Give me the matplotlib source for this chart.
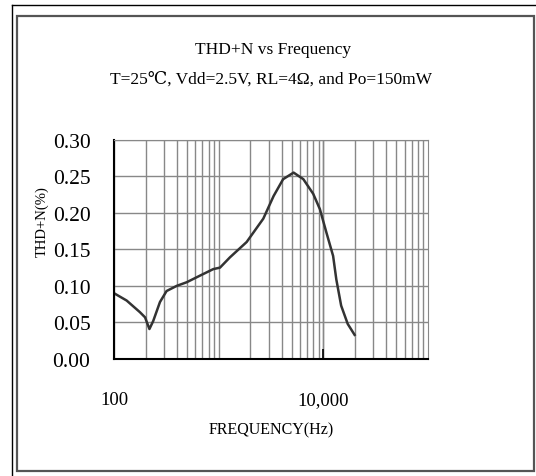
import matplotlib
matplotlib.use("Agg")
import matplotlib.pyplot as plt
from matplotlib.lines import Line2D
from matplotlib.patches import Rectangle
from matplotlib.ticker import FixedLocator, NullFormatter

# dane
freq_hz = [100, 132, 177, 198, 218, 237, 275, 318, 397, 495, 662, 889, 1030, 1280,
           1850, 2670, 3350, 4130, 5200, 6440, 8000, 9270, 10700, 12400, 13300,
           14800, 17100, 19900]
thd_pct = [0.090, 0.080, 0.064, 0.057, 0.041, 0.052, 0.078, 0.093, 0.100, 0.105,
           0.114, 0.123, 0.125, 0.139, 0.160, 0.192, 0.223, 0.246, 0.255, 0.246,
           0.226, 0.205, 0.173, 0.141, 0.109, 0.073, 0.048, 0.033]
y_ticks = [0.00, 0.05, 0.10, 0.15, 0.20, 0.25, 0.30]
y_labels = ["0.00", "0.05", "0.10", "0.15", "0.20", "0.25", "0.30"]
x_ticks = [100, 10000]
x_labels = ["100", "10,000"]

plt.rcParams['font.family'] = ['Liberation Serif', 'DejaVu Serif', 'Noto Sans CJK SC']

W, H = 536, 477
fig = plt.figure(figsize=(W / 100, H / 100), dpi=100)
fig.patch.set_facecolor("white")

def px(x, y):
    return x / W, 1 - y / H

# ramki
fig.add_artist(Rectangle(px(17, 472), (534 - 17) / W, (472 - 17) / H,
                         transform=fig.transFigure, fill=False, edgecolor="#555555", lw=1.6))
fig.add_artist(Line2D([12 / W, 12 / W], [1 - 6 / H, 0], transform=fig.transFigure, color="black", lw=1))
fig.add_artist(Line2D([12 / W, 1], [1 - 6 / H, 1 - 6 / H], transform=fig.transFigure, color="black", lw=1))

ax = fig.add_axes([114 / W, (H - 360) / H, (428 - 114) / W, (360 - 140.7) / H])
ax.plot(freq_hz, thd_pct, color="#333333", lw=1.8)
ax.set_xscale("log")
ax.set_xlim(100, 100000)
ax.set_ylim(0, 0.30)

# siatka
minor = [m * d for d in (100, 1000, 10000) for m in range(2, 10)]
ax.xaxis.set_minor_locator(FixedLocator(minor))
ax.xaxis.set_minor_formatter(NullFormatter())
ax.set_xticks(x_ticks)
ax.set_xticklabels(x_labels, fontsize=13.5)
ax.set_yticks(y_ticks)
ax.set_yticklabels(y_labels, fontsize=15.5)
ax.grid(True, which="both", axis="x", color="#888888", lw=1)
ax.grid(True, which="major", axis="y", color="#888888", lw=1)
for d in (1000, 10000):
    ax.axvline(d, color="#888888", lw=1, zorder=0.5)
ax.tick_params(axis="x", which="major", direction="in", length=7, width=1.2, pad=23, color="black")
ax.tick_params(axis="x", which="minor", length=0)
ax.tick_params(axis="y", length=0, pad=17)

ax.spines["left"].set_color("black")
ax.spines["bottom"].set_color("black")
ax.spines["left"].set_linewidth(1.5)
ax.spines["bottom"].set_linewidth(1.5)
ax.spines["top"].set_color("#888888")
ax.spines["right"].set_color("#888888")

ax.set_xlabel("FREQUENCY(Hz)", fontsize=11.5, labelpad=10)
ax.set_ylabel("THD+N(%)", fontsize=10.5)
ax.yaxis.set_label_coords(-(114 - 49) / (428 - 114), (360 - 222) / (360 - 140.7))

fig.text(273 / W, 1 - 50 / H, "THD+N vs Frequency", ha="center", va="center", fontsize=12.5)
fig.text(271 / W, 1 - 80 / H, "T=25℃, Vdd=2.5V, RL=4Ω, and Po=150mW",
         ha="center", va="center", fontsize=12.5)

fig.savefig("out.png", dpi=100)
